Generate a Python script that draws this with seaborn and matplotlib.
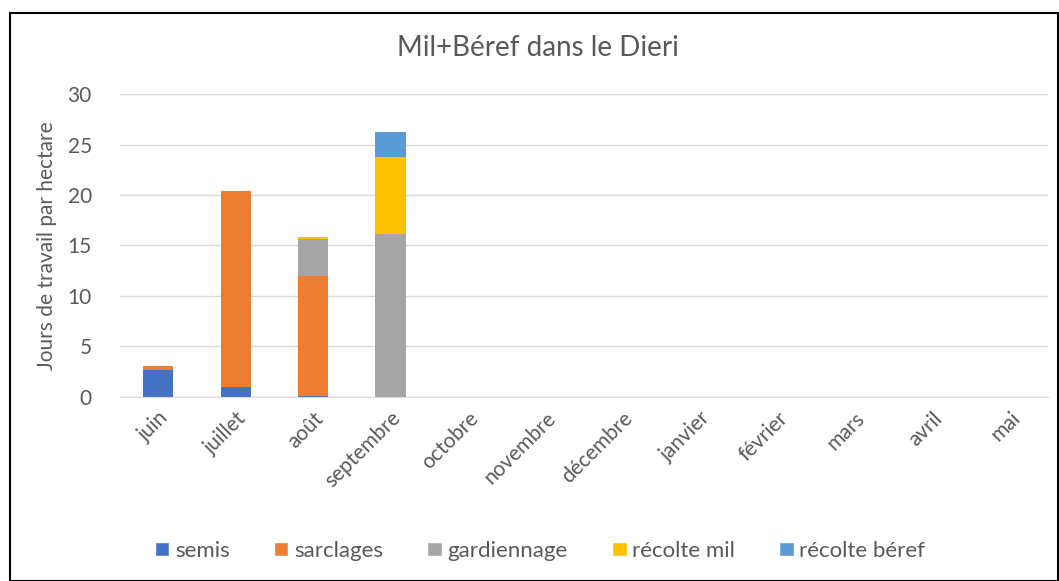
import pandas as pd
import matplotlib.pyplot as plt
import seaborn as sns
from matplotlib.patches import Patch, Rectangle

mois = ["juin", "juillet", "août", "septembre", "octobre", "novembre", "décembre",
        "janvier", "février", "mars", "avril", "mai"]
semis = [2.65, 0.95, 0.05, 0, 0, 0, 0, 0, 0, 0, 0, 0]
sarclages = [0.38, 19.45, 11.9, 0, 0, 0, 0, 0, 0, 0, 0, 0]
gardiennage = [0, 0, 3.65, 16.15, 0, 0, 0, 0, 0, 0, 0, 0]
recolte_mil = [0, 0, 0.22, 7.65, 0, 0, 0, 0, 0, 0, 0, 0]
recolte_beref = [0, 0, 0, 2.4, 0, 0, 0, 0, 0, 0, 0, 0]

series = ["semis", "sarclages", "gardiennage", "récolte mil", "récolte béref"]
couleurs = ["#4472C4", "#ED7D31", "#A5A5A5", "#FFC000", "#5B9BD5"]

df = pd.DataFrame({"mois": mois, "semis": semis, "sarclages": sarclages,
                   "gardiennage": gardiennage, "récolte mil": recolte_mil,
                   "récolte béref": recolte_beref})
cumul = df[series].cumsum(axis=1)
cumul["mois"] = df["mois"]

sns.set_style("white")
plt.rcParams['font.family'] = ['Lato', 'DejaVu Sans']

fig = plt.figure(figsize=(10.59, 5.81), dpi=100)
ax = fig.add_axes([0.113, 0.317, 0.877, 0.521])

# on dessine les cumuls du haut vers le bas
for nom, c in reversed(list(zip(series, couleurs))):
    sns.barplot(x="mois", y=nom, data=cumul, color=c, width=0.39, ax=ax,
                saturation=1, order=mois, linewidth=0)

ax.set_ylim(0, 30)
ax.set_yticks(range(0, 31, 5))
ax.set_xlim(-0.5, 11.5)
ax.yaxis.grid(True, color="#D9D9D9", linewidth=1)
ax.set_axisbelow(True)
for s in ["top", "right", "left"]:
    ax.spines[s].set_visible(False)
ax.spines["bottom"].set_color("#D9D9D9")
ax.tick_params(axis="both", length=0, labelsize=15, colors="#595959", pad=8)
ax.tick_params(axis="y", pad=20)
plt.setp(ax.get_xticklabels(), rotation=45, ha="right", rotation_mode="anchor")
ax.set_xlabel("")
ax.set_ylabel("Jours de travail par hectare", fontsize=15, color="#595959", labelpad=8)

fig.text(0.508, 0.917, "Mil+Béref dans le Dieri", ha="center", va="center",
         fontsize=20, color="#595959")

handles = [Patch(facecolor=c, label=n) for n, c in zip(series, couleurs)]
fig.legend(handles=handles, loc="center", bbox_to_anchor=(0.51, 0.052), ncol=5,
           frameon=False, fontsize=16, labelcolor="#595959", handlelength=0.65,
           handleheight=0.65, handletextpad=0.25, columnspacing=2.0)

fig.patches.append(Rectangle((0.009, 0.0), 0.99, 0.978, transform=fig.transFigure,
                             fill=False, edgecolor="black", linewidth=1.5))

fig.savefig("out.png", dpi=100)
